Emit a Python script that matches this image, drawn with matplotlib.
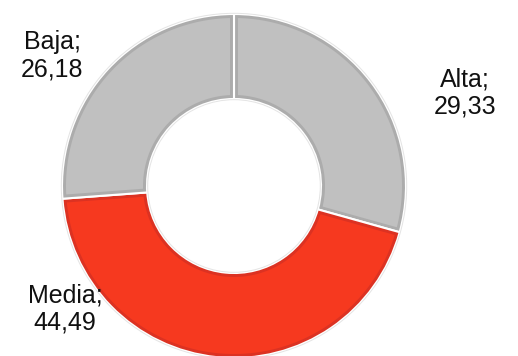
import numpy as np
import matplotlib
matplotlib.use("Agg")
import matplotlib.pyplot as plt

# share of each level, clockwise from the top
labels = ["Alta", "Media", "Baja"]
values = [29.33, 44.49, 26.18]
fills = ["#c0c0c0", "#f6391f", "#c0c0c0"]
edges = ["#acacac", "#dc3222", "#acacac"]

# label anchor points in pixel space
label_xy = [(465, 263), (65, 47), (52, 300)]

W, H = 518, 356
CX, CY, R, R_IN = 234, 170, 172, 87
RIM = 4.0

fig = plt.figure(figsize=(W / 100, H / 100), dpi=100)
ax = fig.add_axes([0, 0, 1, 1])

def fmt(v):
    return f"{v:.2f}".replace(".", ",")

def inset_slice(t1, t2, d):
    # slice outline shrunk by d on every side
    ro, ri = R - d, R_IN + d
    a1o, a2o = t1 + np.degrees(np.arcsin(d / ro)), t2 - np.degrees(np.arcsin(d / ro))
    a1i, a2i = t1 + np.degrees(np.arcsin(d / ri)), t2 - np.degrees(np.arcsin(d / ri))
    to = np.radians(np.linspace(a1o, a2o, 120))
    ti = np.radians(np.linspace(a2i, a1i, 80))
    xs = np.concatenate([CX + ro * np.cos(to), CX + ri * np.cos(ti)])
    ys = np.concatenate([CY + ro * np.sin(to), CY + ri * np.sin(ti)])
    return xs, ys

# base ring in rim colour, white gaps between slices
wedges, _ = ax.pie(values, colors=edges, startangle=90, counterclock=False,
                   center=(CX, CY), radius=R,
                   wedgeprops=dict(width=R - R_IN, edgecolor="white", linewidth=1.5))
# lighter fill inside each rim
for w, fc in zip(wedges, fills):
    xs, ys = inset_slice(w.theta1, w.theta2, RIM)
    ax.fill(xs, ys, color=fc, lw=0, zorder=w.get_zorder() + 0.1)

# faint outline around the ring
ax.add_patch(plt.Circle((CX, CY), R + 0.7, fill=False, ec="#e4e4e4", lw=0.7))
ax.add_patch(plt.Circle((CX, CY), R_IN - 0.7, fill=False, ec="#e4e4e4", lw=0.7))

for lab, v, (x, y) in zip(labels, values, label_xy):
    ax.text(x, y, f"{lab};\n{fmt(v)}", ha="center", va="center",
            fontsize=18, family="Liberation Sans", linespacing=1.2,
            color="#111111")

ax.set_xlim(0, W)
ax.set_ylim(0, H)
ax.set_aspect("equal")
ax.axis("off")

fig.savefig("out.png", dpi=100)
